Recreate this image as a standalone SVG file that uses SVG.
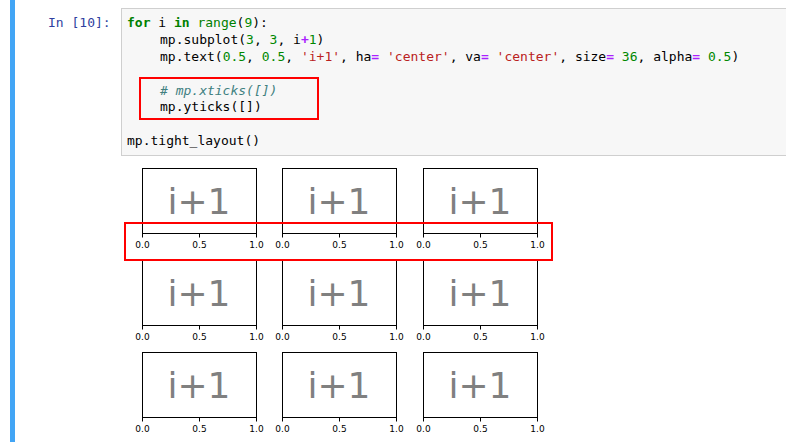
<svg xmlns="http://www.w3.org/2000/svg" width="786" height="442" viewBox="0 0 786 442">
<style>
.c{font-family:"DejaVu Sans Mono",monospace;font-size:13px;fill:#000}
.k{fill:#008000;font-weight:bold}.n{fill:#008000}.m{fill:#080}.s{fill:#ba2121}.o{fill:#aa22ff;font-weight:bold}.cm{fill:#408080;font-style:italic}
.ax{fill:#fff;stroke:#000;stroke-width:1}
.big{font-family:"DejaVu Sans",sans-serif;font-size:36px;fill:#808080;text-anchor:middle}
.t{font-family:"DejaVu Sans",sans-serif;font-size:9px;fill:#000;text-anchor:middle}
.red{fill:none;stroke:#f00;stroke-width:2}
</style>
<rect width="786" height="442" fill="#fff"/>
<rect x="10" y="0" width="5" height="442" fill="#42a5f5"/>
<g id="cell">
<text x="48" y="27" font-family="DejaVu Sans Mono,monospace" font-size="13" fill="#303f9f">In [10]:</text>
<rect x="121.5" y="8.5" width="670" height="147" fill="#f7f7f7" stroke="#cfcfcf"/>
<text class="c" x="127" y="27"><tspan class="k">for</tspan> i <tspan class="k">in</tspan> <tspan class="n">range</tspan>(<tspan class="m">9</tspan>):</text>
<text class="c" x="160" y="44">mp.subplot(<tspan class="m">3</tspan>, <tspan class="m">3</tspan>, i<tspan class="o">+</tspan><tspan class="m">1</tspan>)</text>
<text class="c" x="160" y="61">mp.text(<tspan class="m">0.5</tspan>, <tspan class="m">0.5</tspan>, <tspan class="s">'i+1'</tspan>, ha<tspan class="o">=</tspan> <tspan class="s">'center'</tspan>, va<tspan class="o">=</tspan> <tspan class="s">'center'</tspan>, size<tspan class="o">=</tspan> <tspan class="m">36</tspan>, alpha<tspan class="o">=</tspan> <tspan class="m">0.5</tspan>)</text>
<text class="c cm" x="160" y="95"># mp.xticks([])</text>
<text class="c" x="160" y="111">mp.yticks([])</text>
<text class="c" x="127" y="145">mp.tight_layout()</text>
<rect class="red" x="140" y="78" width="178" height="41"/>
</g>
<defs>
<g id="sp">
<rect class="ax" x="0.5" y="0.5" width="114" height="65"/>
<text class="big" x="57" y="46">i+1</text>
<path d="M0.5 65.5v4M57.5 65.5v4M114.5 65.5v4" stroke="#000"/>
<text class="t" x="0.5" y="80">0.0</text><text class="t" x="57.5" y="80">0.5</text><text class="t" x="114.5" y="80">1.0</text>
</g>
</defs>
<g id="plots">
<use href="#sp" x="142" y="168"/><use href="#sp" x="282" y="168"/><use href="#sp" x="423" y="168"/>
<use href="#sp" x="142" y="260"/><use href="#sp" x="282" y="260"/><use href="#sp" x="423" y="260"/>
<use href="#sp" x="142" y="352"/><use href="#sp" x="282" y="352"/><use href="#sp" x="423" y="352"/>
</g>
<rect class="red" x="125" y="223" width="427" height="37"/>
</svg>
